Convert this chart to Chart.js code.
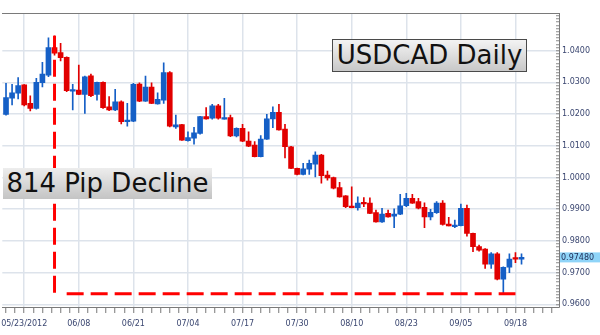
<!DOCTYPE html>
<html>
<head>
<meta charset="utf-8">
<script src="https://cdn.jsdelivr.net/npm/chart.js@4.4.1/dist/chart.umd.min.js"></script>
<style>
html,body{margin:0;padding:0;background:#fff;}
#wrap{position:relative;width:600px;height:335px;overflow:hidden;background:#fff;}
#c{position:absolute;left:0;top:0;}
.note{position:absolute;font-family:"DejaVu Sans",sans-serif;font-size:26px;color:#111;white-space:nowrap;box-sizing:border-box;text-align:center;}
#n1{left:332px;top:39px;width:195px;height:33px;line-height:31px;border:1px solid #4a4a4a;background:linear-gradient(#f3f3f3,#c8c8c8);}
#n2{left:3px;top:168px;width:209px;height:31px;line-height:31px;background:linear-gradient(#ededed,#c4c4c4);}
</style>
</head>
<body>
<div id="wrap">
<canvas id="c" width="600" height="335"></canvas>
<div class="note" id="n1">USDCAD Daily</div>
<div class="note" id="n2">814 Pip Decline</div>
</div>
<script>
// ---- data ----
const dates = [
 '05/18','05/21','05/22','05/23','05/24','05/25','05/28','05/30','05/31','06/01','06/04','06/06','06/08',
 '06/11','06/12','06/13','06/14','06/15','06/18','06/19','06/20','06/21',
 '06/22','06/25','06/26','06/27','06/28','06/29','07/02','07/03','07/04',
 '07/05','07/06','07/09','07/10','07/11','07/12','07/13','07/16','07/17',
 '07/18','07/19','07/20','07/23','07/24','07/25','07/26','07/27','07/30',
 '07/31','08/01','08/02','08/03','08/06','08/07','08/08','08/09','08/10',
 '08/13','08/14','08/15','08/16','08/17','08/20','08/21','08/22','08/23',
 '08/24','08/27','08/28','08/29','08/30','08/31','09/03','09/04','09/05',
 '09/06','09/07','09/10','09/11','09/12','09/13','09/14','09/17','09/18','09/19'
];
const opens = [
 1.0199,1.0250,1.0266,1.0292,1.0234,1.0218,1.0299,1.0323,1.0410,1.0394,1.0379,1.0272,1.0276,
 1.0262,1.0321,1.0262,1.0300,1.0223,1.0213,1.0239,1.0176,1.0178,
 1.0295,1.0241,1.0285,1.0232,1.0244,1.0331,1.0160,1.0167,1.0116,
 1.0124,1.0139,1.0192,1.0187,1.0226,1.0184,1.0189,1.0131,1.0155,
 1.0115,1.0102,1.0066,1.0121,1.0185,1.0206,1.0153,1.0097,1.0029,
 1.0010,1.0026,1.0042,1.0071,1.0008,1.0000,0.9968,0.9942,0.9908,
 0.9905,0.9920,0.9919,0.9889,0.9860,0.9887,0.9878,0.9884,0.9911,
 0.9934,0.9924,0.9906,0.9876,0.9889,0.9919,0.9853,0.9845,0.9848,
 0.9903,0.9824,0.9782,0.9774,0.9727,0.9759,0.9679,0.9717,0.9745,0.9742
];
const highs = [
 1.0297,1.0294,1.0315,1.0293,1.0258,1.0313,1.0363,1.0441,1.0447,1.0423,1.0381,1.0294,1.0355,
 1.0320,1.0326,1.0301,1.0302,1.0255,1.0278,1.0242,1.0234,1.0297,
 1.0299,1.0320,1.0299,1.0267,1.0362,1.0334,1.0197,1.0168,1.0144,
 1.0158,1.0193,1.0221,1.0231,1.0231,1.0250,1.0197,1.0157,1.0168,
 1.0144,1.0113,1.0132,1.0199,1.0223,1.0231,1.0168,1.0098,1.0030,
 1.0045,1.0055,1.0081,1.0073,1.0020,1.0001,0.9985,0.9943,0.9971,
 0.9939,0.9937,0.9936,0.9897,0.9903,0.9897,0.9901,0.9947,0.9950,
 0.9947,0.9934,0.9920,0.9900,0.9924,0.9927,0.9874,0.9866,0.9916,
 0.9913,0.9825,0.9787,0.9776,0.9763,0.9763,0.9718,0.9759,0.9763,0.9759
];
const lows = [
 1.0197,1.0229,1.0248,1.0226,1.0210,1.0216,1.0286,1.0318,1.0386,1.0368,1.0271,1.0213,1.0261,
 1.0202,1.0255,1.0244,1.0218,1.0211,1.0211,1.0169,1.0162,1.0176,
 1.0239,1.0240,1.0233,1.0231,1.0234,1.0160,1.0155,1.0117,1.0115,
 1.0105,1.0137,1.0184,1.0184,1.0184,1.0184,1.0129,1.0128,1.0113,
 1.0097,1.0065,1.0065,1.0120,1.0157,1.0149,1.0062,1.0028,1.0008,
 1.0008,1.0010,1.0002,0.9982,0.9992,0.9964,0.9938,0.9905,0.9904,
 0.9897,0.9908,0.9886,0.9859,0.9858,0.9875,0.9842,0.9883,0.9908,
 0.9918,0.9901,0.9842,0.9866,0.9887,0.9850,0.9847,0.9842,0.9847,
 0.9815,0.9766,0.9768,0.9713,0.9713,0.9677,0.9633,0.9700,0.9731,0.9727
];
const closes = [
 1.0252,1.0267,1.0290,1.0229,1.0218,1.0300,1.0326,1.0410,1.0392,1.0378,1.0274,1.0276,1.0262,
 1.0318,1.0258,1.0300,1.0220,1.0213,1.0239,1.0176,1.0181,1.0294,
 1.0241,1.0285,1.0234,1.0247,1.0331,1.0162,1.0166,1.0118,1.0126,
 1.0141,1.0192,1.0185,1.0226,1.0187,1.0189,1.0131,1.0155,1.0115,
 1.0099,1.0066,1.0121,1.0185,1.0206,1.0150,1.0097,1.0029,1.0010,
 1.0027,1.0045,1.0071,1.0006,0.9999,0.9966,0.9939,0.9908,0.9905,
 0.9919,0.9917,0.9887,0.9860,0.9885,0.9876,0.9885,0.9911,0.9934,
 0.9919,0.9903,0.9876,0.9890,0.9919,0.9852,0.9847,0.9850,0.9903,
 0.9824,0.9782,0.9771,0.9727,0.9759,0.9679,0.9717,0.9743,0.9742,0.9748
];
const tickDates = ['05/23','06/08','06/21','07/04','07/17','07/30','08/10','08/23','09/05','09/18'];
const tickTexts = ['05/23/2012','06/08','06/21','07/04','07/17','07/30','08/10','08/23','09/05','09/18'];
const priceTicks = [0.96, 0.97, 0.98, 0.99, 1.00, 1.01, 1.02, 1.03, 1.04];
// decline markers (from the swing high to the swing low)
const declineFrom = ['05/31', '06/04'];   // vertical line date, start of horizontal line
const declineTo = '09/18';                // end of horizontal line

// ---- helpers ----
const UP = '#155fc6', DOWN = '#e10000';
const GRID = '#dde3eb';
const majorIdx = tickDates.map(d => dates.indexOf(d));
const isMajorPrice = v => priceTicks.some(p => Math.abs(p - v) < 1e-7);
const colorOf = i => closes[i] > opens[i] ? UP : DOWN;
const hiIdx = highs.indexOf(Math.max(...highs));
const loIdx = lows.indexOf(Math.min(...lows));
const vX = dates.indexOf(declineFrom[0]);
const hX0 = dates.indexOf(declineFrom[1]);
const hX1 = dates.indexOf(declineTo);

const priceTag = {
  id: 'priceTag',
  afterDraw(chart) {
    const ys = chart.scales.y;
    const v = closes[closes.length - 1];
    const py = ys.getPixelForValue(v);
    const c = chart.ctx;
    c.save();
    c.fillStyle = '#8fd4f8';
    c.fillRect(ys.left + 1, py - 5, chart.width - ys.left - 1, 10);
    c.fillStyle = '#1e2b55';
    c.font = '8px "DejaVu Sans"';
    c.textBaseline = 'middle';
    c.textAlign = 'left';
    c.fillText(v.toFixed(5), ys.left + 2, py + 0.5);
    c.restore();
  }
};

const dash = {type: 'line', borderColor: '#ff0000', borderWidth: 3, borderDash: [17, 7],
  borderCapStyle: 'butt', pointRadius: 0, fill: false, order: 0, xAxisID: 'x', yAxisID: 'y'};

new Chart(document.getElementById('c'), {
  type: 'bar',
  data: {
    datasets: [
      {
        label: 'wick', order: 2, grouped: false, barThickness: 1,
        data: dates.map((d, i) => ({x: i, y: [lows[i], highs[i]]})),
        backgroundColor: dates.map((d, i) => colorOf(i)), borderWidth: 0
      },
      {
        label: 'body', order: 1, grouped: false, barThickness: 5, minBarLength: 1.6,
        data: dates.map((d, i) => ({x: i, y: [opens[i], closes[i]]})),
        backgroundColor: dates.map((d, i) => colorOf(i)), borderWidth: 0
      },
      Object.assign({label: 'v', data: [{x: vX, y: highs[hiIdx]}, {x: vX, y: lows[loIdx]}]}, dash),
      Object.assign({label: 'h', data: [{x: hX0, y: lows[loIdx]}, {x: hX1, y: lows[loIdx]}]}, dash)
    ]
  },
  options: {
    responsive: false,
    animation: false,
    devicePixelRatio: 1,
    layout: {padding: {top: 13, left: 0, right: 0, bottom: 0}},
    plugins: {legend: {display: false}, tooltip: {enabled: false}},
    scales: {
      x: {
        type: 'linear', position: 'bottom', min: -0.61, max: 91.18, offset: false,
        afterBuildTicks: s => {
          const t = [];
          for (let v = majorIdx[0] - 3; v <= s.max; v += 1.5) if (v >= s.min) t.push({value: v});
          s.ticks = t;
        },
        afterFit: s => { s.height = 28; },
        ticks: {
          autoSkip: false, maxRotation: 0, padding: 6,
          color: '#3a4670', font: {family: '"DejaVu Sans"', size: 8},
          callback: v => { const k = majorIdx.indexOf(v); return k >= 0 ? tickTexts[k] : ''; }
        },
        grid: {
          offset: false, lineWidth: 1.5, tickLength: 6, tickWidth: 1, tickColor: '#777',
          color: ctx => (ctx.tick && majorIdx.includes(ctx.tick.value)) ? GRID : 'rgba(0,0,0,0)'
        },
        border: {display: true, color: '#7a7a7a', width: 1}
      },
      xTop: {
        type: 'linear', position: 'top', display: true, offset: false,
        afterFit: s => { s.height = 0; },
        ticks: {display: false},
        grid: {drawOnChartArea: false, drawTicks: false},
        border: {display: true, color: '#7a7a7a', width: 1}
      },
      y: {
        type: 'linear', position: 'right', min: 0.95915, max: 1.0519,
        afterBuildTicks: s => {
          const t = [];
          for (let k = 960; k <= 1051; k++) t.push({value: k / 1000});
          s.ticks = t;
        },
        afterFit: s => { s.width = 41; },
        ticks: {
          autoSkip: false, padding: 6,
          color: '#3a4670', font: {family: '"DejaVu Sans"', size: 8},
          callback: v => isMajorPrice(v) ? v.toFixed(4) : ''
        },
        grid: {
          lineWidth: 1.5, tickLength: -3, tickWidth: 1, tickColor: '#888',
          color: ctx => (ctx.tick && isMajorPrice(ctx.tick.value)) ? GRID : 'rgba(0,0,0,0)'
        },
        border: {display: true, color: '#7a7a7a', width: 1}
      }
    }
  },
  plugins: [priceTag]
});
</script>
</body>
</html>
